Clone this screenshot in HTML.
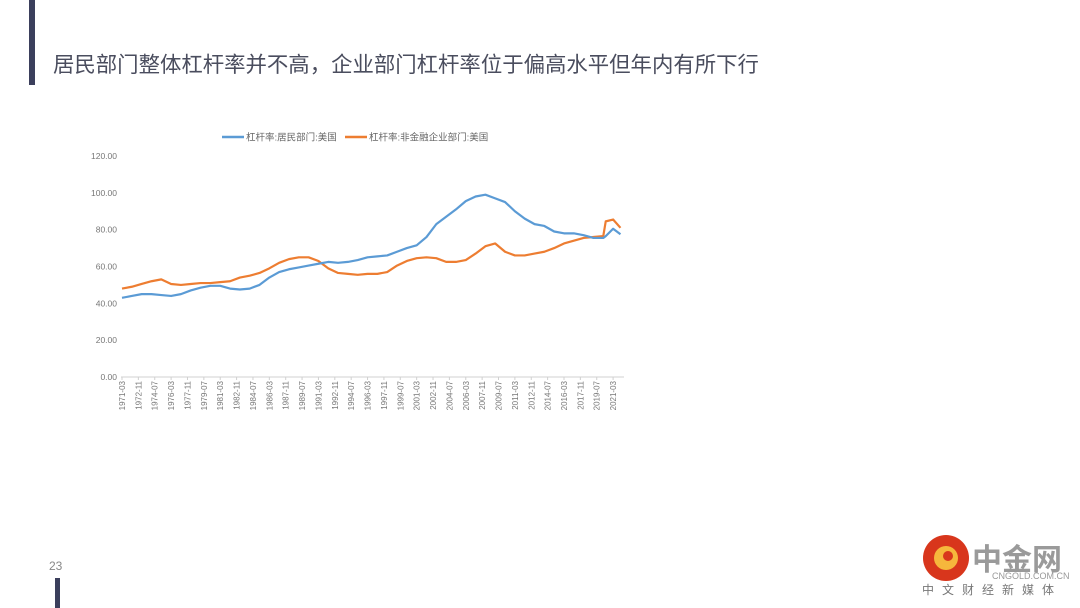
<!DOCTYPE html>
<html><head><meta charset="utf-8">
<style>
html,body{margin:0;padding:0;background:#fff;}
body{width:1080px;height:608px;position:relative;overflow:hidden;font-family:"Liberation Sans","Noto Sans CJK SC",sans-serif;}
#bar{position:absolute;left:29px;top:0;width:6px;height:85px;background:#3b3f5c;}
#title{position:absolute;left:53px;top:48px;font-size:21.4px;color:#4a4d5e;white-space:nowrap;letter-spacing:0;}
#pg{position:absolute;left:49px;top:559px;font-size:12px;color:#888;}
#bbar{position:absolute;left:55px;top:578px;width:5px;height:30px;background:#3b3f5c;}
svg{position:absolute;left:0;top:0;}
</style></head><body>
<div id="bar"></div>
<div id="title">居民部门整体杠杆率并不高，企业部门杠杆率位于偏高水平但年内有所下行</div>
<div id="pg">23</div>
<div id="bbar"></div>
<svg id="chart" width="1080" height="608"></svg>
<svg width="1080" height="608">
  <circle cx="946" cy="558" r="23" fill="#d8361c"/>
  <circle cx="946" cy="558" r="12" fill="#f6b73c"/>
  <circle cx="948" cy="556" r="5" fill="#d8361c"/>
  <text x="972" y="570" font-size="30" font-weight="bold" fill="#9a9a9a" font-family="Noto Sans CJK SC,sans-serif">中金网</text>
  <text x="992" y="579" font-size="9" fill="#999">CNGOLD.COM.CN</text>
  <text x="922" y="594" font-size="12" fill="#777" letter-spacing="8" font-family="Noto Sans CJK SC,sans-serif">中文财经新媒体</text>
</svg>
<script>
const dates=["1971-03","1972-03","1973-03","1974-03","1975-03","1976-03","1977-03","1978-03","1979-03","1980-03","1981-03","1982-03","1983-03","1984-03","1985-03","1986-03","1987-03","1988-03","1989-03","1990-03","1991-03","1992-03","1993-03","1994-03","1995-03","1996-03","1997-03","1998-03","1999-03","2000-03","2001-03","2002-03","2003-03","2004-03","2005-03","2006-03","2007-03","2008-03","2009-03","2010-03","2011-03","2012-03","2013-03","2014-03","2015-03","2016-03","2017-03","2018-03","2019-03","2020-03","2020-06","2021-03","2021-12"];
const household=[43,44,45,45,44.5,44,45,47,48.5,49.5,49.5,48,47.5,48,50,54,57,58.5,59.5,60.5,61.5,62.5,62,62.5,63.5,65,65.5,66,68,70,71.5,76,83,87,91,95.5,98,99,97,95,90,86,83,82,79,78,78,77,75.5,75.5,76.5,80.5,77.5];
const corporate=[48,49,50.5,52,53,50.5,50,50.5,51,51,51.5,52,54,55,56.5,59,62,64,65,65,63,59,56.5,56,55.5,56,56,57,60.5,63,64.5,65,64.5,62.5,62.5,63.5,67,71,72.5,68,66,66,67,68,70,72.5,74,75.5,76,76.5,84.5,85.5,81];
const yTicks=[0,20,40,60,80,100,120];
const xTicks=["1971-03","1972-11","1974-07","1976-03","1977-11","1979-07","1981-03","1982-11","1984-07","1986-03","1987-11","1989-07","1991-03","1992-11","1994-07","1996-03","1997-11","1999-07","2001-03","2002-11","2004-07","2006-03","2007-11","2009-07","2011-03","2012-11","2014-07","2016-03","2017-11","2019-07","2021-03"];
const NS="http://www.w3.org/2000/svg";
const svg=document.getElementById('chart');
function mon(d){const [y,m]=d.split('-').map(Number);return (y-1971)*12+(m-3);}
const x=d=>122+mon(d)*0.8185;
const y=v=>377-v*1.8417;
function mk(t,a){const e=document.createElementNS(NS,t);for(const k in a)e.setAttribute(k,a[k]);svg.appendChild(e);return e;}
const ax=mk('line',{x1:121,x2:624,y1:377,y2:377,stroke:'#d0d0d0','stroke-width':1});


yTicks.forEach(v=>{const t=mk('text',{x:117,y:y(v)+3,'text-anchor':'end','font-size':8.5,fill:'#777'});t.textContent=v.toFixed(2);

});
xTicks.forEach(d=>{const xx=x(d);const t=mk('text',{x:0,y:0,'font-size':8,fill:'#777','text-anchor':'end',transform:`translate(${xx+3},381) rotate(-90)`});t.textContent=d;


mk('line',{x1:xx,x2:xx,y1:377,y2:380,stroke:'#d0d0d0'});});
function line(vals,col,name){const p=mk('polyline',{points:vals.map((v,i)=>x(dates[i])+','+y(v)).join(' '),fill:'none',stroke:col,'stroke-width':2.2,'stroke-linejoin':'round'});

}
line(corporate,'#ed7d31','series-corporate');
line(household,'#5b9bd5','series-household');
const l1=mk('line',{x1:222,x2:244,y1:137,y2:137,stroke:'#5b9bd5','stroke-width':2.5});


const t1=mk('text',{x:246,y:140.5,'font-size':9.5,fill:'#666'});t1.textContent='杠杆率:居民部门:美国';


const l2=mk('line',{x1:345,x2:367,y1:137,y2:137,stroke:'#ed7d31','stroke-width':2.5});


const t2=mk('text',{x:369,y:140.5,'font-size':9.5,fill:'#666'});t2.textContent='杠杆率:非金融企业部门:美国';


</script>
</body></html>
